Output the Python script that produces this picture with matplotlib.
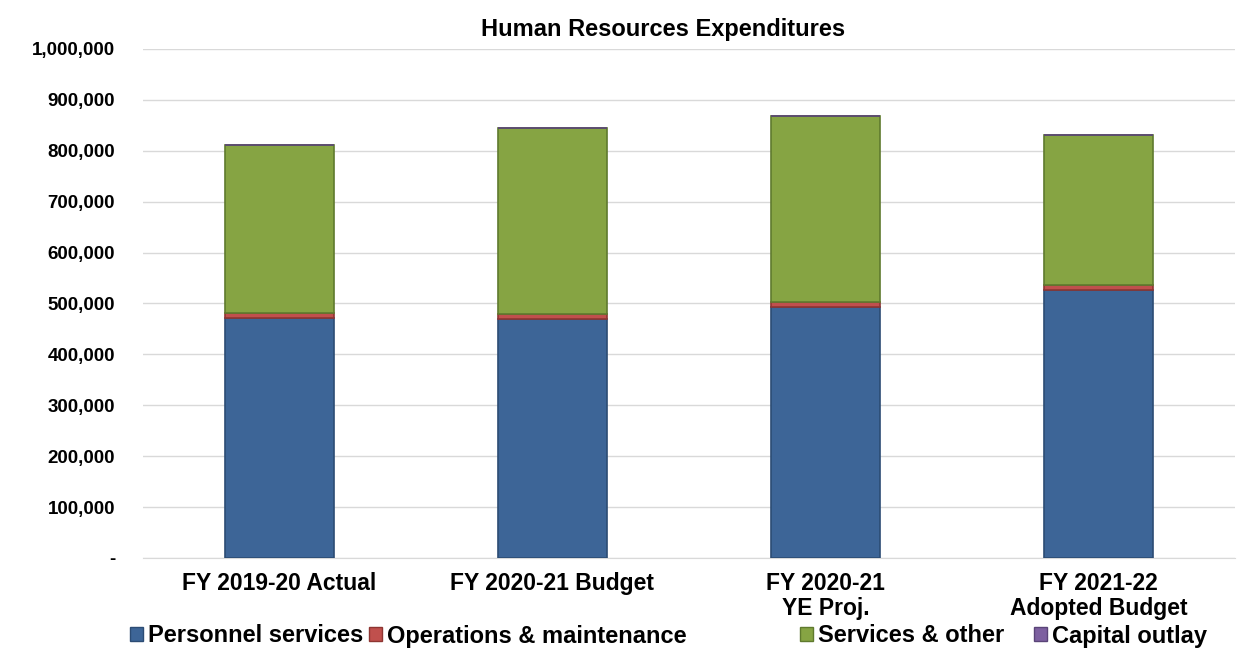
import matplotlib
matplotlib.use("Agg")
import matplotlib.pyplot as plt
from matplotlib.ticker import FuncFormatter, MultipleLocator
from matplotlib.patches import Patch

categories = ["FY 2019-20 Actual", "FY 2020-21 Budget", "FY 2020-21\nYE Proj.", "FY 2021-22\nAdopted Budget"]
personnel = [472000, 470000, 493000, 527000]
operations = [9000, 9000, 9000, 9000]
services = [331000, 366000, 366000, 295000]
capital = [0, 0, 0, 0]
series_names = ["Personnel services", "Operations & maintenance", "Services & other", "Capital outlay"]
colors = ["#3D6597", "#C0504D", "#86A443", "#7D60A0"]
edges = ["#2C4C74", "#8E3532", "#5F7A2E", "#5A4478"]

plt.rcParams['font.family'] = ['Liberation Sans', 'DejaVu Sans']
plt.rcParams['font.weight'] = 'bold'

W, H = 1239, 652
fig = plt.figure(figsize=(W / 100, H / 100), dpi=100)
ax = fig.add_axes([143 / W, (H - 558) / H, (1235 - 143) / W, (558 - 49) / H])

x = list(range(len(categories)))
bottom = [0] * len(categories)
for vals, c, e in zip([personnel, operations, services, capital], colors, edges):
    ax.bar(x, vals, width=0.4, bottom=bottom, color=c, edgecolor=e, linewidth=1.2, zorder=3)
    bottom = [b + v for b, v in zip(bottom, vals)]

ax.set_xlim(-0.5, 3.5)
ax.set_ylim(0, 1000000)
ax.yaxis.set_major_locator(MultipleLocator(100000))
ax.yaxis.set_major_formatter(FuncFormatter(lambda v, p: "-" if v == 0 else f"{int(v):,}"))
ax.grid(axis='y', color='#D9D9D9', linewidth=1, zorder=0)
for s in ['top', 'right', 'left']:
    ax.spines[s].set_visible(False)
ax.spines['bottom'].set_color('#D9D9D9')
ax.tick_params(axis='y', length=0, labelsize=13.5, pad=20)
ax.tick_params(axis='x', length=0, labelsize=16.5, pad=10)
ax.set_xticks(x)
ax.set_xticklabels(categories, fontweight='bold', linespacing=1.1)
for lab in ax.get_yticklabels():
    lab.set_fontweight('bold')

ax.set_title("Human Resources Expenditures", fontsize=17, fontweight='bold', x=0.476, pad=9)

legend_x = [130, 369, 800, 1034]
for name, c, e, lx in zip(series_names, colors, edges, legend_x):
    fig.legend([Patch(facecolor=c, edgecolor=e)], [name], loc='center left',
               bbox_to_anchor=(lx / W, (H - 636) / H), frameon=False,
               prop={'weight': 'bold', 'size': 17}, handlelength=0.55, handleheight=0.55,
               handletextpad=0.2, borderpad=0, borderaxespad=0)

fig.savefig("out.png", dpi=100)
